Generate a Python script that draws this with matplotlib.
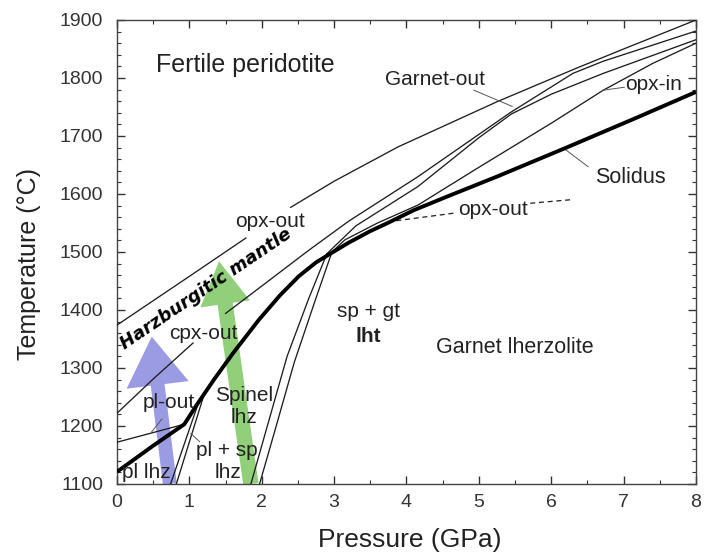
import matplotlib
matplotlib.use("Agg")
import matplotlib.pyplot as plt
from matplotlib.ticker import MultipleLocator

plt.rcParams['font.family'] = ['Liberation Sans', 'DejaVu Sans']

# phase boundaries, pressure in GPa / temperature in °C
solidus_p = [0, 0.5, 0.93, 1.1, 1.34, 1.6, 1.96, 2.25, 2.51, 2.75, 2.92, 3.2, 3.5,
             3.74, 4.1, 4.57, 5.25, 6.21, 7.17, 8.0]
solidus_t = [1121, 1166, 1203, 1236, 1280, 1325, 1383, 1425, 1458, 1482, 1495, 1516, 1536,
             1550, 1572, 1596, 1630, 1680, 1731, 1776]

# opx-out for fertile peridotite (broken around its label)
opx_out_lo_p = [0, 0.5, 1.0, 1.78]
opx_out_lo_t = [1374, 1416, 1458, 1524]
opx_out_hi_p = [2.40, 3.0, 3.88, 5.25, 6.35, 7.0, 8.0]
opx_out_hi_t = [1577, 1622, 1681, 1759, 1817, 1850, 1900]

# cpx-out (broken around its label)
cpx_out_lo_p = [0, 0.5, 1.05]
cpx_out_lo_t = [1222, 1281, 1343]
cpx_out_hi_p = [1.5, 2.05, 2.65, 3.2, 4.16, 5.43, 6.3, 6.72, 8.0]
cpx_out_hi_t = [1394, 1446, 1503, 1553, 1630, 1740, 1808, 1829, 1881]

# spinel -> garnet transition, continuing above the solidus as garnet-out / opx-in
sp_gt_1_p = [1.85, 2.1, 2.35, 2.65, 2.9]
sp_gt_1_t = [1100, 1210, 1320, 1420, 1497]
gt_out_p = [2.9, 3.3, 4.16, 5.0, 5.45, 6.0, 6.72, 8.0]
gt_out_t = [1497, 1545, 1613, 1697, 1738, 1772, 1808, 1866]
sp_gt_2_p = [1.97, 2.2, 2.45, 2.74, 2.97]
sp_gt_2_t = [1100, 1200, 1310, 1417, 1500]
opx_in_p = [2.97, 3.15, 3.6, 4.16, 5.0, 6.0, 6.72, 7.4, 8.0]
opx_in_t = [1500, 1521, 1550, 1581, 1646, 1722, 1779, 1825, 1860]

# plagioclase -> spinel transition
pl_sp_1_p = [0.74, 1.12]
pl_sp_1_t = [1100, 1238]
pl_sp_2_p = [0.82, 1.20]
pl_sp_2_t = [1100, 1253]

# pl-out
pl_out_p = [0, 0.3, 0.6, 0.93]
pl_out_t = [1172, 1182, 1192, 1203]

# opx-out on the solidus (dashed, broken around its label)
opx_dash_a_p = [3.74, 4.66]
opx_dash_a_t = [1552, 1567]
opx_dash_b_p = [5.71, 6.26]
opx_dash_b_t = [1584, 1590]

# decompression paths (base, tip)
blue_path = [(0.73, 1100), (0.48, 1354)]
green_path = [(1.85, 1100), (1.41, 1484)]

fig = plt.figure(figsize=(7.04, 5.54), dpi=100)
ax = fig.add_axes([0.1662, 0.1264, 0.8224, 0.8375])

ink = '#1e1e1e'
thin = dict(color=ink, lw=0.95, zorder=3)

ax.plot(solidus_p, solidus_t, color='black', lw=2.8, zorder=4,
        solid_capstyle='butt', solid_joinstyle='round')
for p, t in [(opx_out_lo_p, opx_out_lo_t), (opx_out_hi_p, opx_out_hi_t),
             (cpx_out_lo_p, cpx_out_lo_t), (cpx_out_hi_p, cpx_out_hi_t),
             (sp_gt_1_p, sp_gt_1_t), (gt_out_p, gt_out_t),
             (sp_gt_2_p, sp_gt_2_t), (opx_in_p, opx_in_t),
             (pl_sp_1_p, pl_sp_1_t), (pl_sp_2_p, pl_sp_2_t),
             (pl_out_p, pl_out_t)]:
    ax.plot(p, t, **thin)
for p, t in [(opx_dash_a_p, opx_dash_a_t), (opx_dash_b_p, opx_dash_b_t)]:
    ax.plot(p, t, color=ink, lw=0.9, ls=(0, (4, 3)), zorder=3)

# leader lines
leaders = [((4.93, 1779), (5.46, 1751)),
           ((6.72, 1779), (7.01, 1784)),
           ((6.17, 1679), (6.51, 1647)),
           ((0.62, 1212), (0.48, 1190)),
           ((1.02, 1187), (1.14, 1173))]
for a, b in leaders:
    ax.plot([a[0], b[0]], [a[1], b[1]], color='#555555', lw=0.7, zorder=3)

# arrows
ax.annotate('', xy=blue_path[1], xytext=blue_path[0],
            arrowprops=dict(arrowstyle='simple,head_length=3.5,head_width=4.5,tail_width=1.0',
                            mutation_scale=10, fc='#8a8ade', ec='none', alpha=0.85,
                            shrinkA=0, shrinkB=0), zorder=1)
ax.annotate('', xy=green_path[1], xytext=green_path[0],
            arrowprops=dict(arrowstyle='simple,head_length=3.1,head_width=3.6,tail_width=1.1',
                            mutation_scale=10, fc='#7ec764', ec='none', alpha=0.85,
                            shrinkA=0, shrinkB=0), zorder=1)

txt = dict(ha='center', va='center', color='#222222', zorder=5)
ax.text(1.77, 1822, 'Fertile peridotite', fontsize=18, **txt)
ax.text(4.40, 1798, 'Garnet-out', fontsize=15, **txt)
ax.text(7.42, 1788, 'opx-in', fontsize=15, **txt)
ax.text(7.09, 1629, 'Solidus', fontsize=15.5, **txt)
ax.text(5.20, 1574, 'opx-out', fontsize=15, **txt)
ax.text(2.11, 1553, 'opx-out', fontsize=15, **txt)
ax.text(1.19, 1360, 'cpx-out', fontsize=15, **txt)
ax.text(0.71, 1241, 'pl-out', fontsize=15, **txt)
ax.text(1.76, 1252, 'Spinel', fontsize=15, **txt)
ax.text(1.76, 1214, 'lhz', fontsize=15, **txt)
ax.text(1.52, 1157, 'pl + sp', fontsize=15, **txt)
ax.text(1.54, 1119, 'lhz', fontsize=15, **txt)
ax.text(0.40, 1119, 'pl lhz', fontsize=15, **txt)
ax.text(3.47, 1398, 'sp + gt', fontsize=15, **txt)
ax.text(3.47, 1355, 'lht', fontsize=15, fontweight='bold', **txt)
ax.text(5.49, 1336, 'Garnet lherzolite', fontsize=15.5, **txt)
ax.text(1.23, 1437, 'Harzburgitic mantle', fontsize=13, fontweight='bold',
        fontstyle='italic', family='DejaVu Sans', rotation=34,
        rotation_mode='anchor', ha='center', va='center', color='black', zorder=5)

ax.set_xlim(0, 8)
ax.set_ylim(1100, 1900)
ax.xaxis.set_major_locator(MultipleLocator(1))
ax.xaxis.set_minor_locator(MultipleLocator(0.5))
ax.yaxis.set_major_locator(MultipleLocator(100))
ax.yaxis.set_minor_locator(MultipleLocator(20))
ax.tick_params(which='both', direction='in', top=True, right=True, colors='#333333')
ax.tick_params(which='major', length=6, width=1, labelsize=14)
ax.tick_params(axis='y', which='major', pad=10)
ax.tick_params(axis='x', which='major', pad=7)
ax.tick_params(which='minor', length=3, width=0.8)
for s in ax.spines.values():
    s.set_color('#444444')
    s.set_linewidth(1)

ax.set_xlabel('Pressure (GPa)', fontsize=19, color='#222222', va='center')
ax.set_ylabel('Temperature (°C)', fontsize=18, color='#222222', va='center')
ax.xaxis.set_label_coords(0.506, -0.121)
ax.yaxis.set_label_coords(-0.152, 0.474)

fig.savefig('out.png', dpi=100)
